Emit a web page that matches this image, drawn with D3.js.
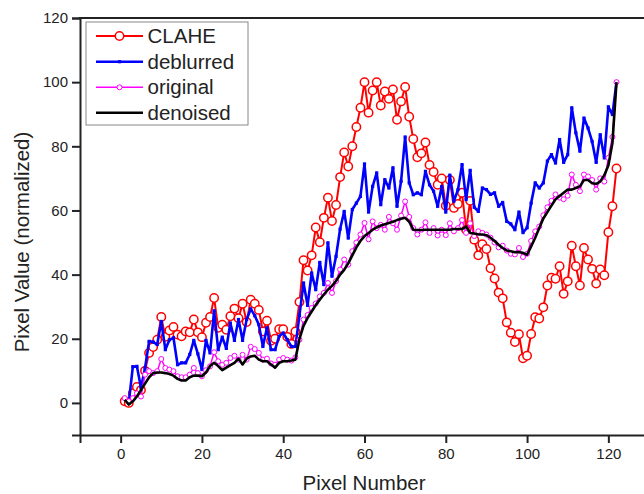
<!DOCTYPE html>
<html><head><meta charset="utf-8">
<script src="https://cdn.jsdelivr.net/npm/d3@7"></script>
<style>html,body{margin:0;padding:0;background:#fff;}svg{display:block;font-family:"Liberation Sans",Arial,sans-serif;}</style>
</head><body><svg id="c" width="644" height="494"></svg>
<script>
const pixelNumbers = d3.range(1, 123);
const clahe = [0.5,0,3,5,4,10,15.6,17.4,19.7,26.8,20.6,22.6,23.7,21.3,20.8,22.3,22,26,22,20.5,25,26.8,32.7,23.4,24.4,22.8,27,29.4,26.4,30.9,25.2,32.2,30.9,29,22.3,25.6,19.4,20,23,23,20.6,18.4,22.3,31.5,44.5,41.3,46,54.7,50.1,57.7,64,56.7,61.7,70.4,78.1,73.7,80,86,92,100,90.5,97.4,100,92.7,97.1,94.8,97.7,88.3,94,98.5,89.2,82.3,76.6,77.8,81.2,74.2,72,68,70,61.5,69.5,60.8,62,65.5,54,63,50.9,46,49.5,48,42,38.8,34.4,32.6,25.1,21.9,19,21.4,13.9,14.7,21.5,26.7,26.3,29.8,36.6,39,38.7,42.6,34,37.9,49,42.6,36.6,48.3,44.7,41.8,37.2,41.6,39.8,53.2,61.3,73.1];
const deblurred = [1.4,0,11.3,11.4,4.7,10.9,19.2,19,18.2,25.4,16.6,19.7,20.3,11.9,12.5,12.5,15.1,19.5,15.3,10.4,19.5,15.6,28.7,16.6,20.5,17,24.9,19.5,26,19.5,26,29.3,27.2,24.4,17.6,23.4,16.6,16.6,20.8,21.8,19.7,17.6,17.6,27.3,37.4,30.4,40.5,35.3,43.8,36.9,49.9,39.5,45.7,54.2,59.7,51.4,60.3,62.3,64.4,74.5,59.5,67.5,71.7,61.8,69.6,67,73.3,61.3,69.1,82.9,68.6,64.9,65.5,64.9,72.2,68,66,61.3,67.5,59.5,71,62.9,66.5,74.3,63.4,72.5,61,59.7,67,66.5,65,65.5,61.3,62.5,56.6,55.8,54,59.5,53.1,54.6,62.3,68.6,67,68.6,75.4,77.4,74.8,82.1,75,77.4,92,84.2,78.5,88.8,85.7,81.5,75,83.6,76.4,92.3,89.9,100];
const original = [1.5,0.5,1.5,3,2,8.8,9.9,9.3,9.9,13.7,10.9,10.4,9.9,8.3,8,8,8.8,10.9,9.3,8.3,10.2,11.4,15.8,13,11.9,12.5,14,14.7,13.5,15,13.5,17.5,16.8,15.6,13.5,13.8,12.3,11.9,13.5,14,13.5,13.2,14.2,19.7,26,27.4,29.6,31,33.2,34.3,37.4,34.3,38,41.6,44.7,43.1,47.3,50,52.5,56.1,51,56.6,54.5,55.5,54,58,56,54,58.4,62.8,58,54.5,52.5,54,56.3,53,54.5,52.2,54,52.3,56,53.5,54.5,57,53,56,52,53.5,53,52.5,51.5,50,48.5,49,47.5,46.5,46.3,48.3,45.5,46.5,50.5,53.5,55,58.5,61,63,65,64,63.5,64.6,71.2,68,66,71.2,70.6,69.5,66.5,70,69,76.4,82.9,100];
const denoised = [1,-0.5,0.5,2,4,6,8,9.3,9.5,9.5,9.3,9,8.5,7.5,7,7,8,8.5,8.5,8.3,9.5,11.5,12.5,11.5,10.2,11,11.8,12.5,13.8,12,13.8,14.5,14.7,13.5,13,13,12,11,12.5,13,13,13.2,13.5,20,24,26.5,28.5,30.5,32.2,33.8,35.3,36.5,38,40,41.5,43.5,46,48.5,50.5,52,53,54,54.7,55.3,55.7,56.1,56.5,57,57.4,57.7,56.5,54,53.9,53.9,54,54,54,54,54,54,54,54.2,54.2,54.2,55,53,52.8,52.5,52.5,52.3,51.5,50.5,49.3,48.3,47.5,47.3,47,47,46.8,46.2,48.8,51.5,54.5,57.5,59.5,61.5,63.5,64.5,65.5,66.5,66.5,67,67.5,69.5,69.5,68.5,68.3,69,71,74,81,100];
const xTicks = [0,20,40,60,80,100,120];
const yTicks = [0,20,40,60,80,100,120];
const seriesNames = ["CLAHE","deblurred","original","denoised"];

const svg = d3.select("#c");
const x = d3.scaleLinear().domain([-10,130]).range([80,649]);
const y = d3.scaleLinear().domain([-10,120]).range([435,18]);
const axisColor = "#222";

const series = [
  {name:"CLAHE", values:clahe, color:"#ff0000", width:2, marker:"circle", r:4.2, mw:1.5},
  {name:"deblurred", values:deblurred, color:"#0000ff", width:2.6, marker:"square", r:1.6},
  {name:"original", values:original, color:"#ff00ff", width:1.5, marker:"circle", r:2.5, mw:1},
  {name:"denoised", values:denoised, color:"#000000", width:2.6, marker:null}
];

const line = d3.line().x((d,i)=>x(pixelNumbers[i])).y(d=>y(d));

series.forEach(s=>{
  const g = svg.append("g");
  g.append("path").datum(s.values).attr("d", line).attr("fill","none")
    .attr("stroke", s.color).attr("stroke-width", s.width).attr("stroke-linejoin","round");
  if (s.marker === "circle") {
    g.selectAll("circle").data(s.values).join("circle")
      .attr("cx",(d,i)=>x(pixelNumbers[i])).attr("cy",d=>y(d)).attr("r",s.r)
      .attr("fill","#fff").attr("stroke",s.color).attr("stroke-width",s.mw);
  } else if (s.marker === "square") {
    g.selectAll("rect").data(s.values).join("rect")
      .attr("x",(d,i)=>x(pixelNumbers[i])-s.r).attr("y",d=>y(d)-s.r)
      .attr("width",s.r*2).attr("height",s.r*2).attr("fill",s.color);
  }
});

// axes
const xAxis = d3.axisBottom(x).tickValues(xTicks).tickSize(8).tickPadding(5).tickFormat(d3.format("d"));
const yAxis = d3.axisLeft(y).tickValues(yTicks).tickSize(8).tickPadding(4).tickFormat(d3.format("d"));
const gx = svg.append("g").attr("transform","translate(0,435)").call(xAxis);
const gy = svg.append("g").attr("transform","translate(80,0)").call(yAxis);
[gx,gy].forEach(g=>{
  g.select(".domain").attr("stroke",axisColor).attr("stroke-width",2);
  g.selectAll(".tick line").attr("stroke",axisColor).attr("stroke-width",2);
  g.selectAll(".tick text").attr("fill","#222").style("font-size","15px")
    .style("font-family",'"Liberation Sans",Arial,sans-serif');
});
// top frame
svg.append("line").attr("x1",79).attr("x2",649).attr("y1",y(120)).attr("y2",y(120))
  .attr("stroke",axisColor).attr("stroke-width",2);

// axis titles
svg.append("text").attr("x",364).attr("y",490).attr("text-anchor","middle")
  .style("font-size","20.5px").attr("fill","#222").text("Pixel Number");
svg.append("text").attr("transform","translate(29,242) rotate(-90)").attr("text-anchor","middle")
  .style("font-size","20.5px").attr("fill","#222").text("Pixel Value (normalized)");

// legend
const lg = svg.append("g");
lg.append("rect").attr("x",86).attr("y",22).attr("width",162).attr("height",103)
  .attr("fill","#fff").attr("stroke","#888").attr("stroke-width",1);
const legY = [36,61.7,87.3,112.7];
series.forEach((s,i)=>{
  const yy = legY[i];
  lg.append("line").attr("x1",96).attr("x2",143).attr("y1",yy).attr("y2",yy)
    .attr("stroke",s.color).attr("stroke-width",s.width);
  if (s.marker === "circle") {
    lg.append("circle").attr("cx",119.5).attr("cy",yy).attr("r",s.r)
      .attr("fill","#fff").attr("stroke",s.color).attr("stroke-width",s.mw);
  } else if (s.marker === "square") {
    lg.append("rect").attr("x",119.5-s.r).attr("y",yy-s.r).attr("width",s.r*2).attr("height",s.r*2).attr("fill",s.color);
  }
  lg.append("text").attr("x",147.5).attr("y",yy+7).style("font-size","20.5px").attr("fill","#222").text(seriesNames[i]);
});
</script></body></html>
